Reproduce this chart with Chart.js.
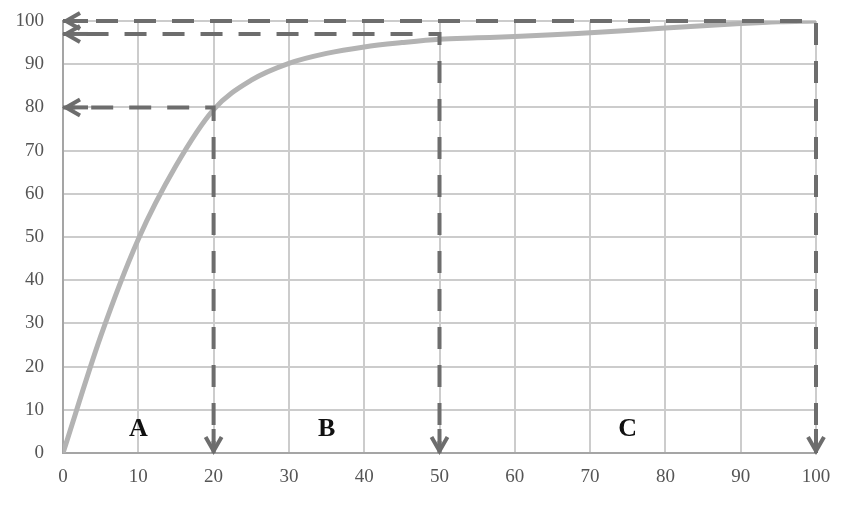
<!DOCTYPE html>
<html>
<head>
<meta charset="utf-8">
<script src="https://cdn.jsdelivr.net/npm/chart.js@4"></script>
<style>
  html, body { margin: 0; padding: 0; background: #fff; }
  #wrap { width: 850px; height: 507px; }
</style>
</head>
<body>
<div id="wrap"><canvas id="c"></canvas></div>
<script>
// cumulative share curve
const xValues = [0, 5, 10, 15, 20, 25, 30, 35, 40, 45, 50, 55, 60, 65, 70, 75, 80, 85, 90, 95, 100];
const shareValues = [0, 27, 49.5, 66.5, 79.5, 86.3, 90.2, 92.5, 94, 95, 95.8, 96.1, 96.4, 96.8, 97.3, 97.8, 98.4, 98.9, 99.4, 99.8, 100];

// guide lines: drop from the curve to the x axis and across to the y axis
const guideX = [20, 50, 100];
const guideY = [80, 97, 100];

// zone letters
const zoneNames = ['A', 'B', 'C'];
const zoneX = [10, 35, 75];
const zoneY = 5.5;

const xTicks = [0, 10, 20, 30, 40, 50, 60, 70, 80, 90, 100];
const yTicks = [0, 10, 20, 30, 40, 50, 60, 70, 80, 90, 100];

const guideColor = '#6d6d6d';
const serif = '"Liberation Serif", "DejaVu Serif", serif';

const curve = xValues.map((x, i) => ({ x: x, y: shareValues[i] }));

const guideSets = guideX.map((gx, i) => ({
  label: 'guide' + i,
  data: [{ x: gx, y: 0 }, { x: gx, y: guideY[i] }, { x: 0, y: guideY[i] }],
  borderColor: guideColor,
  borderWidth: 4,
  borderDash: [22, 16],
  borderDashOffset: 10,
  pointRadius: 0,
  tension: 0,
  fill: false,
  clip: false,
  order: 0
}));

// arrowheads at both ends of each guide, and the zone letters
const extras = {
  id: 'extras',
  afterDatasetsDraw(chart) {
    const ctx = chart.ctx;
    const xs = chart.scales.x, ys = chart.scales.y;
    ctx.save();
    ctx.strokeStyle = guideColor;
    ctx.lineWidth = 4;
    ctx.lineCap = 'butt';
    ctx.lineJoin = 'miter';
    guideX.forEach((gx, i) => {
      // left-pointing head on the y axis
      let tx = xs.getPixelForValue(0) + 3, ty = ys.getPixelForValue(guideY[i]);
      ctx.beginPath();
      ctx.moveTo(tx + 14, ty - 8);
      ctx.lineTo(tx, ty);
      ctx.lineTo(tx + 14, ty + 8);
      ctx.stroke();
      ctx.beginPath();
      ctx.moveTo(tx, ty);
      ctx.lineTo(tx + 22, ty);
      ctx.stroke();
      // down-pointing head on the x axis
      tx = xs.getPixelForValue(gx); ty = ys.getPixelForValue(0) - 2;
      ctx.beginPath();
      ctx.moveTo(tx - 8, ty - 14);
      ctx.lineTo(tx, ty);
      ctx.lineTo(tx + 8, ty - 14);
      ctx.stroke();
      ctx.beginPath();
      ctx.moveTo(tx, ty);
      ctx.lineTo(tx, ty - 22);
      ctx.stroke();
    });
    ctx.fillStyle = '#111';
    ctx.font = 'bold 26px ' + serif;
    ctx.textAlign = 'center';
    ctx.textBaseline = 'middle';
    zoneNames.forEach((name, i) => {
      ctx.fillText(name, xs.getPixelForValue(zoneX[i]), ys.getPixelForValue(zoneY));
    });
    ctx.restore();
  }
};

new Chart(document.getElementById('c'), {
  type: 'line',
  data: {
    datasets: [
      {
        label: 'share',
        data: curve,
        borderColor: '#b3b3b3',
        borderWidth: 5,
        pointRadius: 0,
        cubicInterpolationMode: 'monotone',
        fill: false,
        order: 1
      },
      ...guideSets
    ]
  },
  plugins: [extras],
  options: {
    responsive: true,
    maintainAspectRatio: false,
    animation: false,
    layout: { padding: { left: 0, right: 34, top: 21, bottom: 0 } },
    plugins: { legend: { display: false }, tooltip: { enabled: false } },
    scales: {
      x: {
        type: 'linear',
        min: 0,
        max: 100,
        afterFit(scale) { scale.height = 54; scale.paddingRight = 0; },
        afterBuildTicks(scale) { scale.ticks = xTicks.map(v => ({ value: v })); },
        grid: { color: '#cccccc', lineWidth: 2, drawTicks: false },
        border: { color: '#a5a5a5', width: 2 },
        ticks: { padding: 13, color: '#555', font: { family: serif, size: 19 } }
      },
      y: {
        type: 'linear',
        min: 0,
        max: 100,
        afterFit(scale) { scale.width = 63; scale.paddingTop = 0; scale.paddingBottom = 0; },
        afterBuildTicks(scale) { scale.ticks = yTicks.map(v => ({ value: v })); },
        grid: { color: '#cccccc', lineWidth: 2, drawTicks: false },
        border: { color: '#a5a5a5', width: 2 },
        ticks: { padding: 19, color: '#555', font: { family: serif, size: 19 } }
      }
    }
  }
});
</script>
</body>
</html>
